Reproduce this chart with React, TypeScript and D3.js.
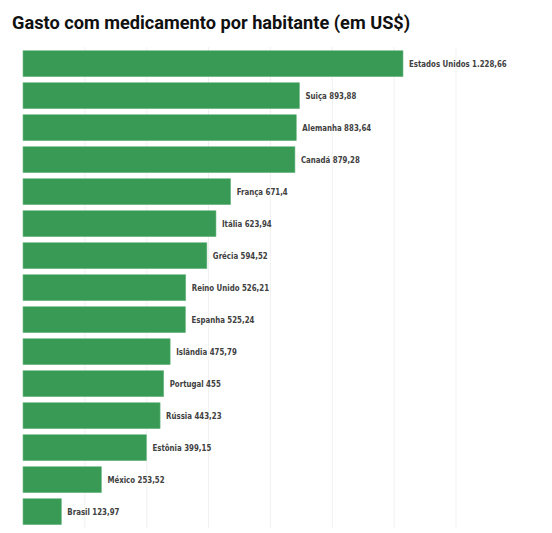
import React, { useRef, useEffect } from 'react'
import * as d3 from 'd3'

const countries = [
  'Estados Unidos', 'Suiça', 'Alemanha', 'Canadá', 'França', 'Itália', 'Grécia',
  'Reino Unido', 'Espanha', 'Islândia', 'Portugal', 'Rússia', 'Estônia', 'México', 'Brasil',
]
const spending = [
  1228.66, 893.88, 883.64, 879.28, 671.4, 623.94, 594.52,
  526.21, 525.24, 475.79, 455, 443.23, 399.15, 253.52, 123.97,
]
const gridTicks = [200, 400, 600, 800, 1000, 1200, 1400]

const TITLE = 'Gasto com medicamento por habitante (em US$)'
const BAR_COLOR = '#389a54'

// 1228.66 -> "1.228,66"
function fmtBR(v: number) {
  const [int, dec] = String(v).split('.')
  const withSep = int.replace(/\B(?=(\d{3})+(?!\d))/g, '.')
  return dec ? `${withSep},${dec}` : withSep
}

export default function App() {
  const svgRef = useRef<SVGSVGElement>(null)
  const width = 552
  const height = 533

  useEffect(() => {
    if (!svgRef.current) return
    const svg = d3.select(svgRef.current)
    svg.selectAll('*').remove()

    const rows = countries.map((c, i) => ({ country: c, value: spending[i] }))

    const x = d3.scaleLinear().domain([0, 1228.66]).range([23, 403])
    const y = d3.scaleBand<string>()
      .domain(countries)
      .range([47.7, 527.7])
      .paddingInner(0.19)
      .paddingOuter(0.095)

    // title
    svg.append('text')
      .attr('x', 12)
      .attr('y', 29)
      .text(TITLE)
      .style('font-family', 'Roboto, sans-serif')
      .style('font-weight', '700')
      .style('font-size', '18.2px')
      .style('fill', '#111')

    // faint vertical gridlines
    svg.append('g')
      .selectAll('line')
      .data(gridTicks)
      .enter().append('line')
      .attr('x1', d => x(d))
      .attr('x2', d => x(d))
      .attr('y1', 47)
      .attr('y2', 528)
      .attr('stroke', '#f1f1f1')
      .attr('stroke-width', 1)

    // bars
    svg.append('g')
      .selectAll('rect')
      .data(rows)
      .enter().append('rect')
      .attr('x', x(0))
      .attr('y', d => y(d.country)!)
      .attr('width', d => x(d.value) - x(0))
      .attr('height', y.bandwidth())
      .attr('fill', BAR_COLOR)
      .attr('stroke', '#6fb884')
      .attr('stroke-width', 0.6)

    // labels (narrow, Calibri-like look via horizontal squeeze)
    svg.append('g')
      .selectAll('text')
      .data(rows)
      .enter().append('text')
      .attr('transform', d => `translate(${x(d.value) + 6},${y(d.country)! + y.bandwidth() / 2}) scale(0.74,1)`)
      .attr('dy', '0.35em')
      .text(d => `${d.country} ${fmtBR(d.value)}`)
      .style('font-family', '"DejaVu Sans", sans-serif')
      .style('font-weight', '700')
      .style('font-size', '9.5px')
      .style('fill', '#404040')
  }, [])

  return (
    <svg
      ref={svgRef}
      width={width}
      height={height}
      style={{ position: 'absolute', left: 0, top: 0, background: '#fff' }}
    />
  )
}
